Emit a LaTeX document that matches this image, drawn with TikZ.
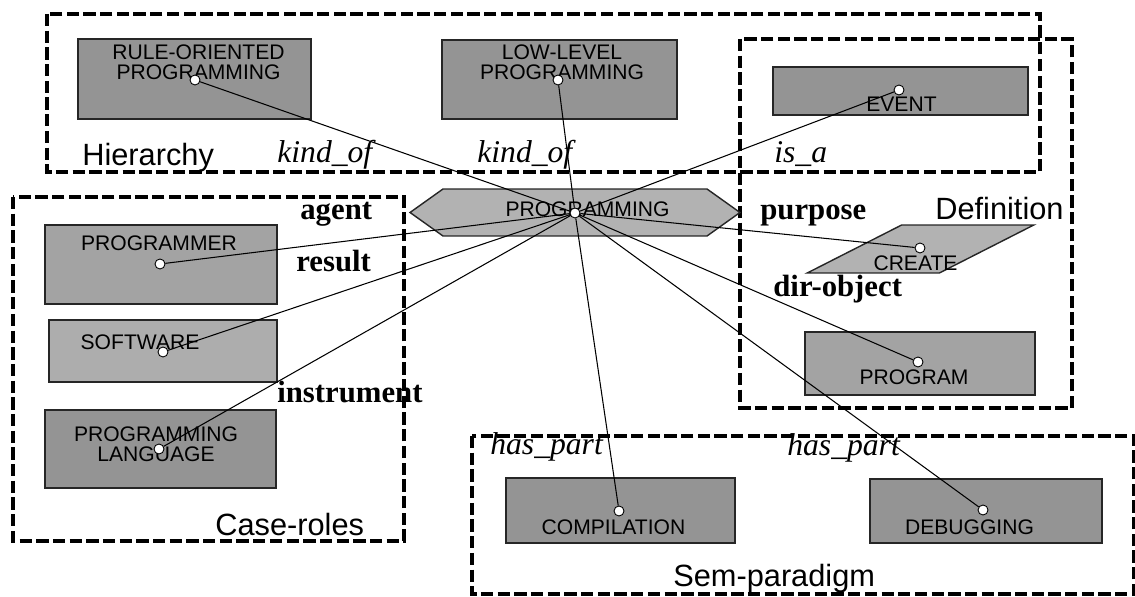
\documentclass[tikz,border=0pt]{standalone}
\usepackage{fontspec}
\setmainfont{Liberation Serif}
\setsansfont{Liberation Sans}
\usetikzlibrary{shapes.geometric,shapes.symbols}

\begin{document}
\begin{tikzpicture}[x=0.02cm,y=-0.02cm]
    \tikzstyle{conceptbox} = [draw=black!85, line width=0.8pt, fill=black!42, inner sep=0pt]
    \tikzstyle{boxtext} = [font=\sffamily\fontsize{12}{11.5}\selectfont, align=center, inner sep=0pt]
    \tikzstyle{knob} = [draw, circle, fill=white, line width=0.5pt, minimum size=0.2cm, inner sep=0pt]
    \tikzstyle{link} = [line width=0.6pt]
    \tikzstyle{groupframe} = [line width=1.8pt, dash pattern=on 7pt off 2.5pt]
    \tikzstyle{grouptitle} = [font=\sffamily\fontsize{17.5}{20}\selectfont, anchor=base west, inner sep=0pt]
    \tikzstyle{relation} = [font=\itshape\fontsize{18}{20}\selectfont, anchor=base west, inner sep=0pt]
    \tikzstyle{caserole} = [font=\bfseries\fontsize{17.5}{20}\selectfont, anchor=base west, inner sep=0pt]

    \useasboundingbox (0,0) rectangle (1135,597);

    % Dashed group frames
    \draw [groupframe] (47,14) rectangle (1040,172);
    \draw [groupframe] (740,39) rectangle (1072,408);
    \draw [groupframe] (13,197) rectangle (404,541);
    \draw [groupframe] (472,436) rectangle (1134,594);

    % Group titles
    \node [grouptitle] (HierarchyTitle) at (82,166) {Hierarchy};
    \node [grouptitle] (DefinitionTitle) at (935,220) {Definition};
    \node [grouptitle] (CaseRolesTitle) at (215,535) {Case-roles};
    \node [grouptitle] (SemParadigmTitle) at (673,586) {Sem-paradigm};

    % Relation labels
    \node [relation] (KindOfLeft) at (277,163) {kind\_of};
    \node [relation] (KindOfRight) at (477,163) {kind\_of};
    \node [relation] (IsA) at (774,163) {is\_a};
    \node [relation] (HasPartLeft) at (490,455) {has\_part};
    \node [relation] (HasPartRight) at (787,456) {has\_part};
    \node [caserole] (Agent) at (300,220) {agent};
    \node [caserole] (Result) at (296,272) {result};
    \node [caserole] (Instrument) at (277,402) {instrument};
    \node [caserole] (Purpose) at (760,220) {purpose};
    \node [caserole] (DirObject) at (773,297) {dir-object};

    % Central hexagon
    \node [conceptbox, fill=black!30, inner sep=2pt, signal, signal to=west and east, signal pointer angle=71, minimum width=6.6cm, minimum height=0.94cm] (Programming) at (575,212.5) {};
    \node [boxtext] (ProgrammingText) at (587.5,209) {PROGRAMMING};
    \node [knob] (ProgrammingDot) at (575,213) {};

    % Upper left box
    \node [conceptbox, minimum width=4.66cm, minimum height=1.6cm] (RuleOriented) at (194.5,79) {};
    \node [boxtext] (RuleOrientedText) at (198.5,62) {RULE-ORIENTED\\PROGRAMMING};
    \node [knob] (RuleOrientedDot) at (195,80) {};
    \draw [link] (ProgrammingDot) -- (RuleOrientedDot);

    % Upper middle box
    \node [conceptbox, minimum width=4.7cm, minimum height=1.58cm] (LowLevel) at (559.5,79.5) {};
    \node [boxtext] (LowLevelText) at (562,62.5) {LOW-LEVEL\\PROGRAMMING};
    \node [knob] (LowLevelDot) at (558,80) {};
    \draw [link] (ProgrammingDot) -- (LowLevelDot);

    % Upper right box
    \node [conceptbox, minimum width=5.1cm, minimum height=0.96cm] (Event) at (900.5,91) {};
    \node [boxtext] (EventText) at (901.5,104) {EVENT};
    \node [knob] (EventDot) at (899,90) {};
    \draw [link] (ProgrammingDot) -- (EventDot);

    % Parallelogram on the right
    \node [conceptbox, fill=black!30, inner sep=2pt, trapezium, trapezium left angle=58, trapezium right angle=122, trapezium stretches=true, minimum width=4.54cm, minimum height=0.96cm] (Create) at (920.5,249) {\strut};
    \node [boxtext] (CreateText) at (915.5,263) {CREATE};
    \node [knob] (CreateDot) at (920,248) {};
    \draw [link] (ProgrammingDot) -- (CreateDot);

    % Lower right box
    \node [conceptbox, fill=black!36, minimum width=4.6cm, minimum height=1.26cm] (Program) at (920,363.5) {};
    \node [boxtext] (ProgramText) at (914,377) {PROGRAM};
    \node [knob] (ProgramDot) at (918,362) {};
    \draw [link] (ProgrammingDot) -- (ProgramDot);

    % Left top box
    \node [conceptbox, fill=black!36, minimum width=4.64cm, minimum height=1.58cm] (Programmer) at (161,264.5) {};
    \node [boxtext] (ProgrammerText) at (159,243) {PROGRAMMER};
    \node [knob] (ProgrammerDot) at (160,264) {};
    \draw [link] (ProgrammingDot) -- (ProgrammerDot);

    % Left middle box
    \node [conceptbox, fill=black!32, minimum width=4.56cm, minimum height=1.24cm] (Software) at (163,351) {};
    \node [boxtext] (SoftwareText) at (140,342) {SOFTWARE};
    \node [knob] (SoftwareDot) at (163,352) {};
    \draw [link] (ProgrammingDot) -- (SoftwareDot);

    % Left bottom box
    \node [conceptbox, minimum width=4.62cm, minimum height=1.56cm] (Language) at (160.5,449) {};
    \node [boxtext] (LanguageText) at (156,444) {PROGRAMMING\\LANGUAGE};
    \node [knob] (LanguageDot) at (159,449) {};
    \draw [link] (ProgrammingDot) -- (LanguageDot);

    % Bottom left box
    \node [conceptbox, minimum width=4.58cm, minimum height=1.3cm] (Compilation) at (620.5,510.5) {};
    \node [boxtext] (CompilationText) at (613.5,527) {COMPILATION};
    \node [knob] (CompilationDot) at (619,511) {};
    \draw [link] (ProgrammingDot) -- (CompilationDot);

    % Bottom right box
    \node [conceptbox, minimum width=4.64cm, minimum height=1.28cm] (Debugging) at (986,511) {};
    \node [boxtext] (DebuggingText) at (969.5,527) {DEBUGGING};
    \node [knob] (DebuggingDot) at (983,510) {};
    \draw [link] (ProgrammingDot) -- (DebuggingDot);
\end{tikzpicture}
\end{document}
